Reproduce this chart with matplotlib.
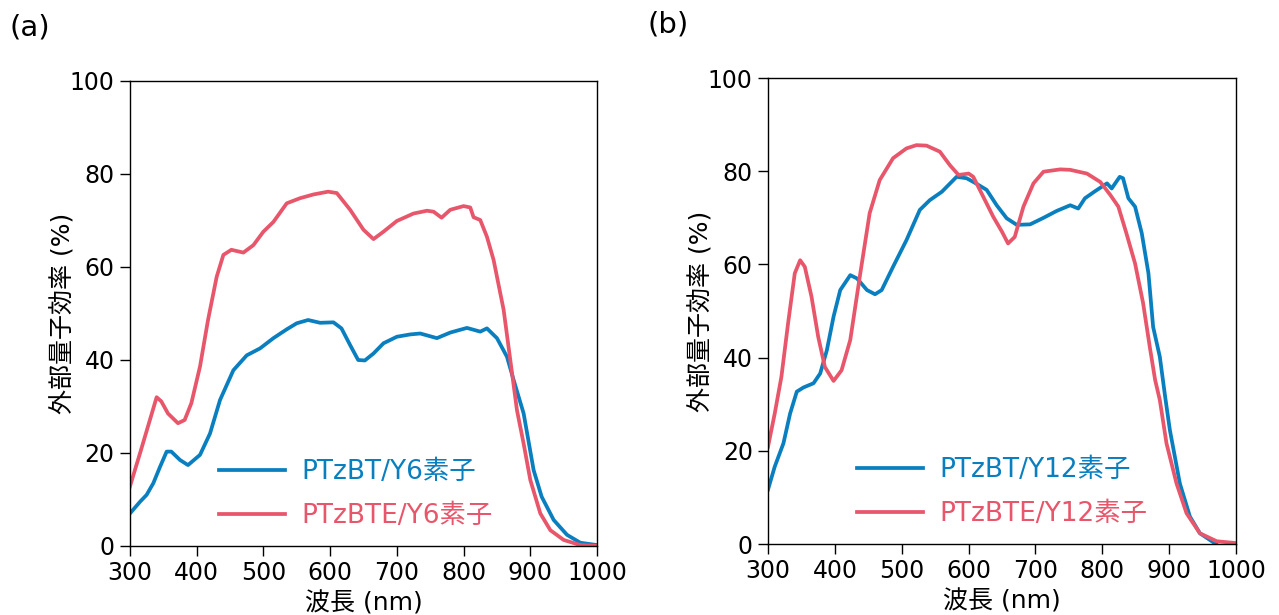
import matplotlib
matplotlib.use('Agg')
import matplotlib.pyplot as plt
import numpy as np

plt.rcParams['font.family'] = ['DejaVu Sans', 'Noto Sans CJK JP']

# (a) PTzBT/Y6 と PTzBTE/Y6
wl_a_bt = [300, 315, 325, 335, 345, 355, 362, 375, 387, 405, 420, 435, 455, 475, 495, 515, 535, 550,
           567, 585, 605, 617, 630, 642, 652, 665, 680, 700, 720, 735, 760, 780, 805, 825, 835, 850,
           865, 875, 890, 905, 917, 935, 955, 975, 1000]
eqe_a_bt = [7.0, 9.5, 11, 13.5, 17, 20.3, 20.3, 18.5, 17.4, 19.6, 24.2, 31.4, 37.8, 41, 42.5, 44.7, 46.6, 47.9,
            48.6, 48, 48.1, 46.8, 43.2, 40, 39.9, 41.4, 43.6, 45, 45.5, 45.7, 44.7, 45.9, 46.9, 46.1, 46.8, 44.7,
            40.7, 35.7, 28.5, 16.3, 10.6, 5.6, 2.4, 0.7, 0.2]

wl_a_bte = [300, 315, 327, 340, 347, 357, 372, 382, 392, 405, 417, 430, 440, 452, 470, 485, 500, 515, 535,
            555, 575, 597, 610, 630, 650, 665, 680, 700, 725, 745, 755, 767, 780, 800, 810, 815, 825, 835,
            845, 860, 870, 880, 890, 900, 915, 930, 950, 975, 1000]
eqe_a_bte = [12.8, 19.9, 25.7, 32, 31.1, 28.5, 26.4, 27.1, 30.7, 38.6, 48.6, 57.9, 62.6, 63.7, 63.1, 64.7, 67.6,
             69.7, 73.7, 74.8, 75.6, 76.2, 75.9, 72.3, 68, 66, 67.6, 69.9, 71.5, 72.1, 71.9, 70.6, 72.3, 73.1,
             72.8, 70.7, 70.1, 66.5, 61.5, 50.8, 40, 29.2, 22, 14.2, 7, 3.4, 1.3, 0.2, 0]

# (b) PTzBT/Y12 と PTzBTE/Y12
wl_b_bt = [300, 310, 323, 333, 343, 353, 368, 378, 388, 398, 408, 423, 433, 448, 460, 470, 487, 507, 527,
           542, 560, 582, 597, 612, 627, 642, 657, 672, 692, 712, 732, 752, 764, 774, 789, 807, 814, 826,
           831, 839, 849, 859, 869, 876, 886, 894, 901, 916, 931, 946, 970]
eqe_b_bt = [11.7, 16.6, 21.6, 28, 32.7, 33.6, 34.5, 36.6, 41.6, 48.8, 54.5, 57.7, 57, 54.5, 53.6, 54.5, 59.5,
            65.2, 71.7, 73.8, 75.6, 78.8, 78.5, 77.3, 76, 72.7, 69.9, 68.5, 68.6, 70, 71.5, 72.7, 72, 74.2,
            75.7, 77.4, 76.3, 78.8, 78.5, 74.2, 72.4, 66.7, 58.1, 46.6, 40.2, 31.6, 24.5, 13, 5.9, 2.3, 0]

wl_b_bte = [300, 310, 320, 330, 340, 348, 355, 365, 375, 385, 398, 410, 423, 438, 452, 467, 487, 507, 522,
            537, 557, 572, 585, 600, 607, 622, 637, 650, 659, 669, 682, 697, 712, 737, 752, 777, 797, 812,
            824, 836, 849, 861, 871, 879, 886, 896, 911, 926, 946, 971, 1000]
eqe_b_bte = [20.9, 28, 35.9, 47.4, 58.1, 60.9, 59.5, 53.1, 44.5, 38, 35, 37.3, 43.8, 58.1, 71, 78.1, 82.8,
             84.9, 85.6, 85.5, 84.2, 81.3, 79.2, 79.5, 78.8, 74.5, 70.2, 67, 64.5, 65.9, 72.4, 77.4, 79.9,
             80.4, 80.3, 79.5, 77.7, 74.9, 72.4, 66.7, 60.2, 51.7, 42.3, 35.2, 30.9, 21.6, 13, 6.6, 2.3, 0.6, 0.2]

blue = '#0a7fc0'
red = '#e8566b'

fig = plt.figure(figsize=(12.79, 6.15), dpi=100)
ax1 = fig.add_axes([0.1016, 0.1122, 0.3652, 0.7561])
ax2 = fig.add_axes([0.6005, 0.1154, 0.3659, 0.7577])

panels = [
    (ax1, wl_a_bt, eqe_a_bt, wl_a_bte, eqe_a_bte, 'PTzBT/Y6素子', 'PTzBTE/Y6素子', '(a)'),
    (ax2, wl_b_bt, eqe_b_bt, wl_b_bte, eqe_b_bte, 'PTzBT/Y12素子', 'PTzBTE/Y12素子', '(b)'),
]

for ax, x1, y1, x2, y2, lab1, lab2, tag in panels:
    ax.plot(x1, y1, color=blue, lw=2.7, label=lab1)
    ax.plot(x2, y2, color=red, lw=2.7, label=lab2)
    ax.set_xlim(300, 1000)
    ax.set_ylim(0, 100)
    ax.set_xticks(np.arange(300, 1001, 100))
    ax.set_yticks(np.arange(0, 101, 20))
    ax.tick_params(direction='out', length=7, width=1, labelsize=17, pad=4)
    for s in ax.spines.values():
        s.set_linewidth(1)
    ax.set_xlabel('波長 (nm)', fontsize=18, labelpad=4)
    ax.set_ylabel('外部量子効率 (%)', fontsize=18, labelpad=-4)
    leg = ax.legend(loc='lower left', bbox_to_anchor=(0.14, -0.015), frameon=False, fontsize=19,
                    handlelength=2.5, handletextpad=0.6, labelspacing=0.68)
    for t, c in zip(leg.get_texts(), [blue, red]):
        t.set_color(c)
    ax.text(-0.257, 1.114, tag, transform=ax.transAxes, fontsize=21, va='center', ha='left')

fig.savefig('out.png', dpi=100)
